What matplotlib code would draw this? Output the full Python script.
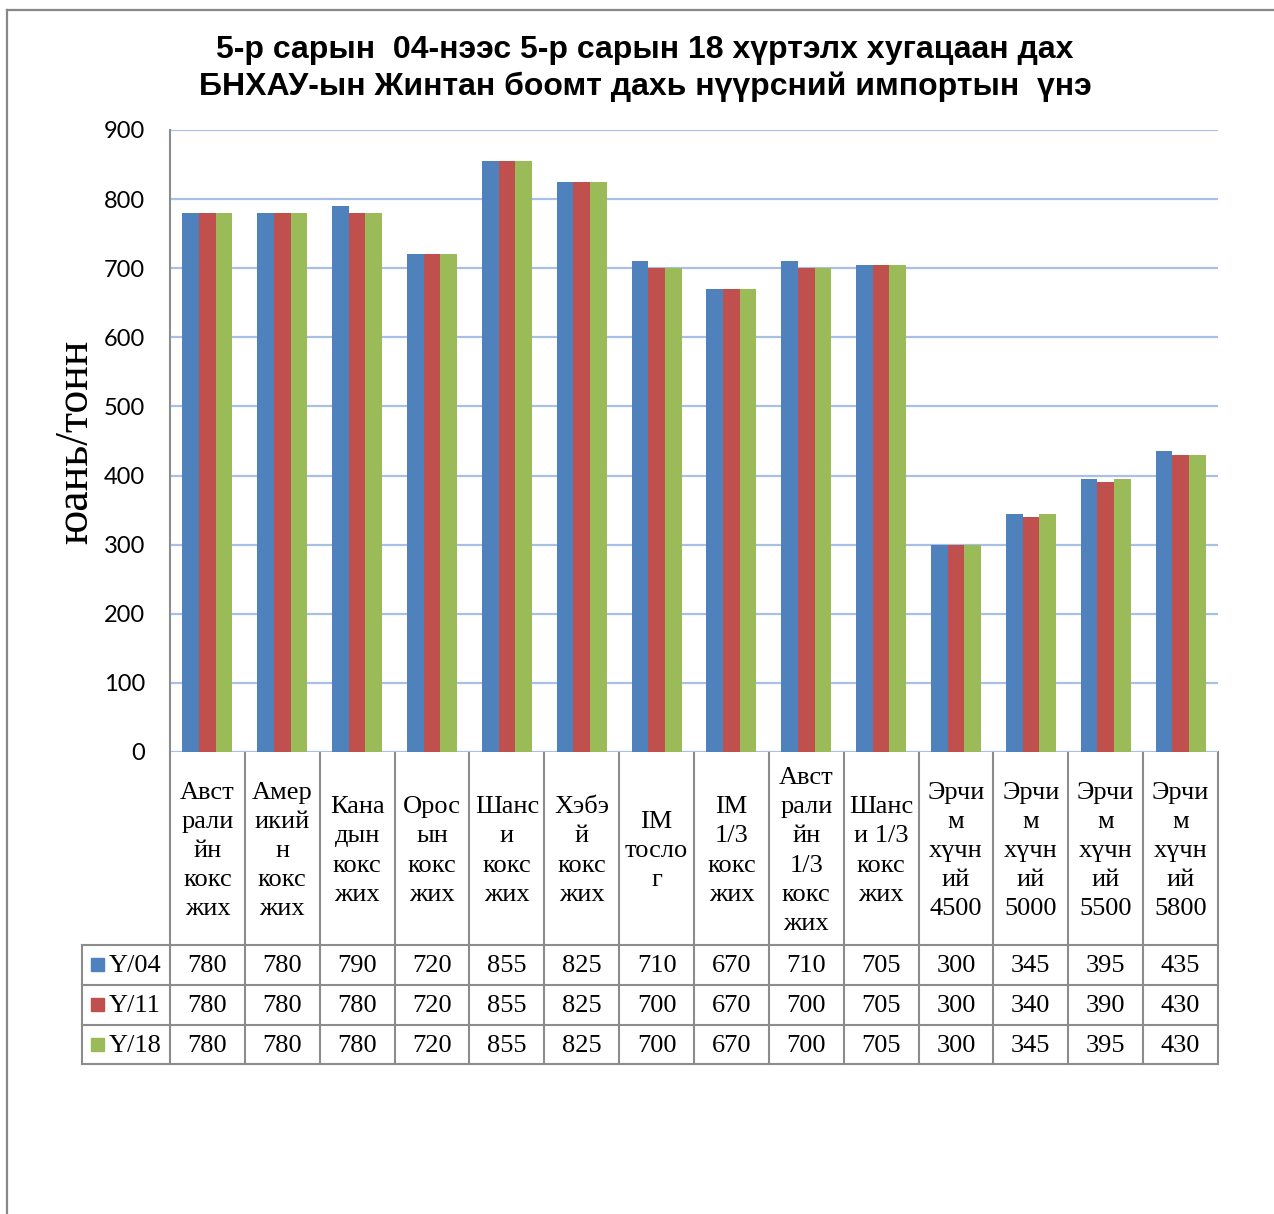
import matplotlib
matplotlib.use("Agg")
import matplotlib.pyplot as plt
import numpy as np
from matplotlib.patches import Rectangle

categories = [
    "Авст\nрали\nйн\nкокс\nжих",
    "Амер\nикий\nн\nкокс\nжих",
    "Кана\nдын\nкокс\nжих",
    "Орос\nын\nкокс\nжих",
    "Шанс\nи\nкокс\nжих",
    "Хэбэ\nй\nкокс\nжих",
    "IM\nтосло\nг",
    "IM\n1/3\nкокс\nжих",
    "Авст\nрали\nйн\n1/3\nкокс\nжих",
    "Шанс\nи 1/3\nкокс\nжих",
    "Эрчи\nм\nхүчн\nий\n4500",
    "Эрчи\nм\nхүчн\nий\n5000",
    "Эрчи\nм\nхүчн\nий\n5500",
    "Эрчи\nм\nхүчн\nий\n5800",
]
series_names = ["Y/04", "Y/11", "Y/18"]
y04 = [780, 780, 790, 720, 855, 825, 710, 670, 710, 705, 300, 345, 395, 435]
y11 = [780, 780, 780, 720, 855, 825, 700, 670, 700, 705, 300, 340, 390, 430]
y18 = [780, 780, 780, 720, 855, 825, 700, 670, 700, 705, 300, 345, 395, 430]
yticks = [0, 100, 200, 300, 400, 500, 600, 700, 800, 900]
title1 = "5-р сарын  04-нээс 5-р сарын 18 хүртэлх хугацаан дах"
title2 = "БНХАУ-ын Жинтан боомт дахь нүүрсний импортын  үнэ"
ylabel = "юань/тонн"

colors = ["#4f81bd", "#c0504d", "#9bbb59"]
W, H = 1274, 1214
fig = plt.figure(figsize=(W / 100, H / 100), dpi=100)
fig.patch.set_facecolor("white")

# plot area in pixels
L, R, T, B = 170, 1218, 130, 752
ax = fig.add_axes([L / W, 1 - B / H, (R - L) / W, (B - T) / H])
n = len(categories)
x = np.arange(n) + 0.5
bw = 1 / 4.5
for k, vals in enumerate([y04, y11, y18]):
    ax.bar(x + (k - 1) * bw, vals, width=bw, color=colors[k], zorder=3, linewidth=0)
ax.set_xlim(0, n)
ax.set_ylim(0, 900)
ax.set_yticks(yticks)
ax.set_yticklabels([str(v) for v in yticks], fontsize=17, family="Lato")
ax.tick_params(axis="y", length=0, pad=18)
ax.set_xticks([])
for s in ["top", "right", "bottom"]:
    ax.spines[s].set_visible(False)
ax.spines["left"].set_color("#8c8c8c")
ax.spines["left"].set_linewidth(1.5)
ax.yaxis.grid(True, color="#a9c0e6", linewidth=1.6, zorder=0)
ax.set_axisbelow(True)
ax.set_facecolor("none")

# overlay in pixel coordinates
ov = fig.add_axes([0, 0, 1, 1], zorder=-1)
ov.set_xlim(0, W)
ov.set_ylim(H, 0)
ov.axis("off")

# figure border
ov.plot([7, 7], [10, H], color="#888888", lw=1.6)
ov.plot([7, W], [10, 10], color="#888888", lw=1.6)

ov.text(645, 50, title1, ha="center", va="center", fontsize=23, fontweight="bold",
        family="Liberation Sans")
ov.text(645, 87, title2, ha="center", va="center", fontsize=23, fontweight="bold",
        family="Liberation Sans")
ov.text(76, 442, ylabel, ha="center", va="center", rotation=90, fontsize=33,
        family="Liberation Serif")

# table
cw = (R - L) / n
rows = [945, 985, 1025, 1064]
gc = "#8c8c8c"
lw = 1.5
for i in range(n + 1):
    xx = L + i * cw
    ov.plot([xx, xx], [B, rows[-1]], color=gc, lw=lw)
for yy in rows:
    ov.plot([82, R], [yy, yy], color=gc, lw=lw)
ov.plot([82, 82], [rows[0], rows[-1]], color=gc, lw=lw)

for i, c in enumerate(categories):
    ov.text(L + (i + 0.5) * cw, 851, c, ha="center", va="center", fontsize=19,
            family="Liberation Serif", linespacing=1.42)

for r, (name, vals) in enumerate(zip(series_names, [y04, y11, y18])):
    yc = (rows[r] + rows[r + 1]) / 2
    ov.add_patch(Rectangle((91, yc - 7), 13, 13, color=colors[r]))
    ov.text(109, yc + 1, name, ha="left", va="center", fontsize=19, family="Liberation Serif")
    for i, v in enumerate(vals):
        ov.text(L + (i + 0.5) * cw, yc + 1, str(v), ha="center", va="center",
                fontsize=19, family="Liberation Serif")

fig.savefig("out.png", dpi=100, facecolor="white")
